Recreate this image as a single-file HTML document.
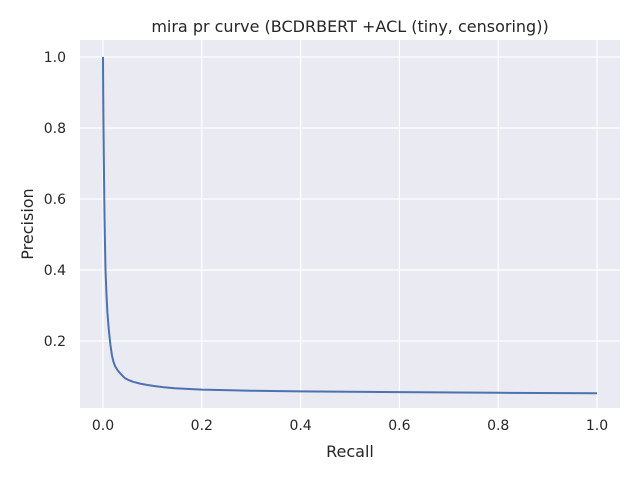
<!DOCTYPE html>
<html><head><meta charset="utf-8"><style>
body{margin:0;background:#fff;font-family:"DejaVu Sans","Liberation Sans",sans-serif;}
svg text{fill:#262626;}
</style></head><body>
<svg width="640" height="480" xmlns="http://www.w3.org/2000/svg">
<rect x="0" y="0" width="640" height="480" fill="#fff"/>
<rect x="80" y="40" width="540" height="368" fill="#eaeaf2"/>
<g id="grid"></g><g id="ticks"></g>
<path id="curve" fill="none" stroke="#4c72b0" stroke-width="2" stroke-linejoin="round"/>
<text x="350" y="32" font-size="16" text-anchor="middle">mira pr curve (BCDRBERT +ACL (tiny, censoring))</text>
<text x="350" y="457" font-size="16" text-anchor="middle">Recall</text>
<text x="33" y="224" font-size="16" text-anchor="middle" transform="rotate(-90 33 224)">Precision</text>
</svg>
<script>
const recall=[0,0.0005,0.001,0.002,0.003,0.005,0.007,0.009,0.011,0.013,0.015,0.018,0.021,0.025,0.03,0.034,0.04,0.045,0.052,0.061,0.075,0.09,0.105,0.121,0.145,0.17,0.2,0.236,0.3,0.4,0.6,0.8,1.0];
const precision=[1.0,0.9,0.8,0.67,0.55,0.4,0.33,0.28,0.245,0.215,0.19,0.16,0.142,0.128,0.117,0.11,0.101,0.095,0.09,0.085,0.08,0.076,0.073,0.07,0.067,0.065,0.063,0.062,0.06,0.058,0.056,0.054,0.053];
const xTicks=[0,0.2,0.4,0.6,0.8,1.0];
const xTickLabels=["0.0","0.2","0.4","0.6","0.8","1.0"];
const yTicks=[0.2,0.4,0.6,0.8,1.0];
const yTickLabels=["0.2","0.4","0.6","0.8","1.0"];
const NS="http://www.w3.org/2000/svg";
function xs(v){return 103+v*494;}
function ys(v){return 341-(v-0.2)*355;}
const grid=document.getElementById('grid'),ticks=document.getElementById('ticks');
xTicks.forEach((t,i)=>{
 const l=document.createElementNS(NS,'line');
 l.setAttribute('x1',xs(t));l.setAttribute('x2',xs(t));l.setAttribute('y1',40);l.setAttribute('y2',408);
 l.setAttribute('stroke','#fff');l.setAttribute('stroke-width','1.2');
 
 
 grid.appendChild(l);
 const tx=document.createElementNS(NS,'text');
 tx.setAttribute('x',xs(t));tx.setAttribute('y',430);tx.setAttribute('font-size','14');tx.setAttribute('text-anchor','middle');
 tx.textContent=xTickLabels[i];
 
 
 ticks.appendChild(tx);
});
yTicks.forEach((t,i)=>{
 const l=document.createElementNS(NS,'line');
 l.setAttribute('x1',80);l.setAttribute('x2',620);l.setAttribute('y1',ys(t));l.setAttribute('y2',ys(t));
 l.setAttribute('stroke','#fff');l.setAttribute('stroke-width','1.2');
 
 
 grid.appendChild(l);
 const tx=document.createElementNS(NS,'text');
 tx.setAttribute('x',66);tx.setAttribute('y',ys(t)+5);tx.setAttribute('font-size','14');tx.setAttribute('text-anchor','end');
 tx.textContent=yTickLabels[i];
 
 
 ticks.appendChild(tx);
});
document.getElementById('curve').setAttribute('d',recall.map((r,i)=>(i?'L':'M')+xs(r).toFixed(1)+','+ys(precision[i]).toFixed(1)).join(' '));
</script>
</body></html>
